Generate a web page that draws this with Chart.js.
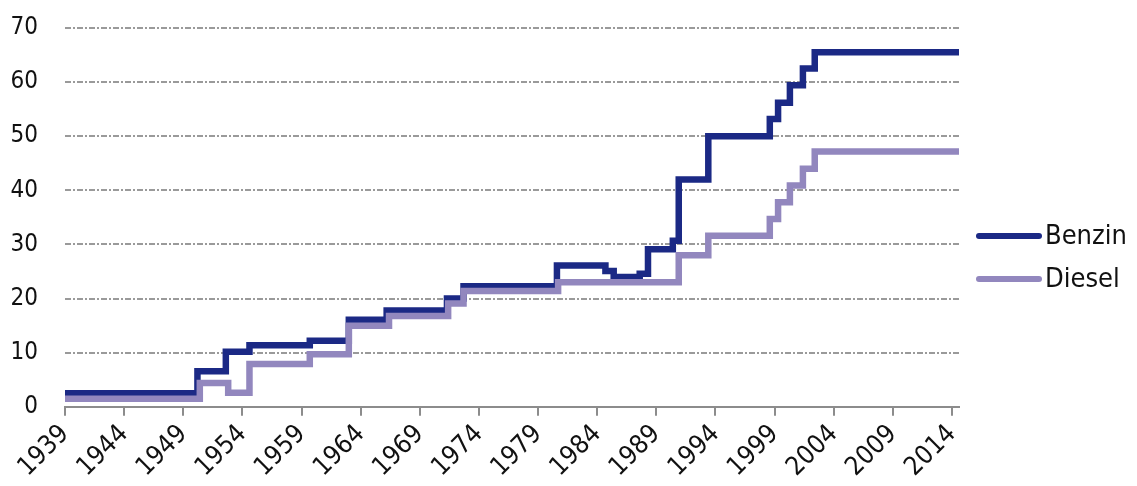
<!DOCTYPE html>
<html>
<head>
<meta charset="utf-8">
<script src="https://cdn.jsdelivr.net/npm/chart.js@4"></script>
<style>
  html, body { margin: 0; padding: 0; background: #fff; }
  #wrap { width: 1137px; height: 486px; position: relative; }
</style>
</head>
<body>
<div id="wrap"><canvas id="lineChart"></canvas></div>
<script>
// Benzin - step changes (year, value)
const benzinYears  = [1939, 1950.2, 1952.6, 1954.6, 1959.7, 1963.0, 1966.2, 1971.3, 1972.7, 1980.6, 1984.7, 1985.4, 1987.6, 1988.3, 1990.4, 1990.9, 1993.4, 1998.6, 1999.3, 2000.3, 2001.4, 2002.4, 2014.6];
const benzinValues = [2.5, 6.6, 10.2, 11.4, 12.2, 16.1, 17.8, 20.0, 22.3, 26.1, 25.1, 24.0, 24.6, 29.1, 30.7, 42.0, 50.0, 53.2, 56.2, 59.4, 62.5, 65.5, 65.5];

// Diesel
const dieselYears  = [1939, 1950.4, 1952.8, 1954.6, 1959.7, 1963.0, 1966.4, 1971.4, 1972.7, 1980.7, 1990.9, 1993.4, 1998.6, 1999.3, 2000.3, 2001.4, 2002.4, 2014.6];
const dieselValues = [1.5, 4.4, 2.6, 7.9, 9.7, 15.0, 16.8, 19.1, 21.4, 23.0, 28.0, 31.6, 34.7, 37.8, 40.9, 44.0, 47.2, 47.2];

const xTickYears = [1939, 1944, 1949, 1954, 1959, 1964, 1969, 1974, 1979, 1984, 1989, 1994, 1999, 2004, 2009, 2014];
const yTickValues = [0, 10, 20, 30, 40, 50, 60, 70];

const seriesLabels = ['Benzin', 'Diesel'];
const seriesColors = ['#1b2985', '#9287be'];

const toPoints = (xs, ys) => xs.map((x, i) => ({ x: x, y: ys[i] }));

const fontFamily = '"DejaVu Sans Condensed", "DejaVu Sans", sans-serif';

// legend on the right, drawn by hand so it sits where the original has it
const sideLegend = {
    id: 'sideLegend',
    afterDraw: chart => {
        const { ctx } = chart;
        const rows = [236, 279];
        seriesLabels.forEach((label, i) => {
            ctx.save();
            ctx.strokeStyle = seriesColors[i];
            ctx.lineWidth = 6;
            ctx.lineCap = 'round';
            ctx.beginPath();
            ctx.moveTo(979, rows[i]);
            ctx.lineTo(1039, rows[i]);
            ctx.stroke();
            ctx.fillStyle = '#111';
            ctx.font = '27px ' + fontFamily;
            ctx.textBaseline = 'middle';
            ctx.fillText(label, 1045, rows[i] + 1);
            ctx.restore();
        });
    }
};

const data_line = {
    datasets: [
        {
            label: seriesLabels[0],
            data: toPoints(benzinYears, benzinValues),
            borderColor: seriesColors[0],
            borderWidth: 6.5,
            stepped: true,
            pointRadius: 0,
            order: 1
        },
        {
            label: seriesLabels[1],
            data: toPoints(dieselYears, dieselValues),
            borderColor: seriesColors[1],
            borderWidth: 6.5,
            stepped: true,
            pointRadius: 0,
            order: 0 // drawn on top of Benzin
        }
    ]
};

const options_line = {
    responsive: true,
    maintainAspectRatio: false,
    animation: false,
    layout: {
        padding: { top: 7, right: 178, bottom: 0, left: 9 }
    },
    plugins: {
        legend: { display: false },
        tooltip: { enabled: false }
    },
    scales: {
        x: {
            type: 'linear',
            min: 1939,
            max: 2014.6,
            afterBuildTicks: axis => {
                axis.ticks = xTickYears.map(v => ({ value: v }));
            },
            ticks: {
                color: '#111',
                font: { family: fontFamily, size: 26 },
                minRotation: 45,
                maxRotation: 45,
                padding: 3,
                callback: v => String(v)
            },
            grid: {
                drawOnChartArea: false,
                color: '#8c8c8c',
                tickLength: 9,
                lineWidth: 2
            },
            border: { display: true, color: '#8c8c8c', width: 2 }
        },
        y: {
            min: 0,
            max: 70,
            afterBuildTicks: axis => {
                axis.ticks = yTickValues.map(v => ({ value: v }));
            },
            afterFit: axis => {
                // keep the label gap without the extra top/bottom room
                axis.width = 56;
                axis.paddingTop = 28;
                axis.paddingBottom = 14;
            },
            ticks: {
                color: '#111',
                font: { family: fontFamily, size: 24 },
                padding: 27
            },
            grid: {
                color: '#9a9a9a',
                lineWidth: 2,
                drawTicks: false
            },
            border: { display: false, dash: [6, 2, 2, 2] }
        }
    }
};

new Chart(document.getElementById('lineChart'), {
    type: 'line',
    data: data_line,
    options: options_line,
    plugins: [sideLegend]
});
</script>
</body>
</html>
